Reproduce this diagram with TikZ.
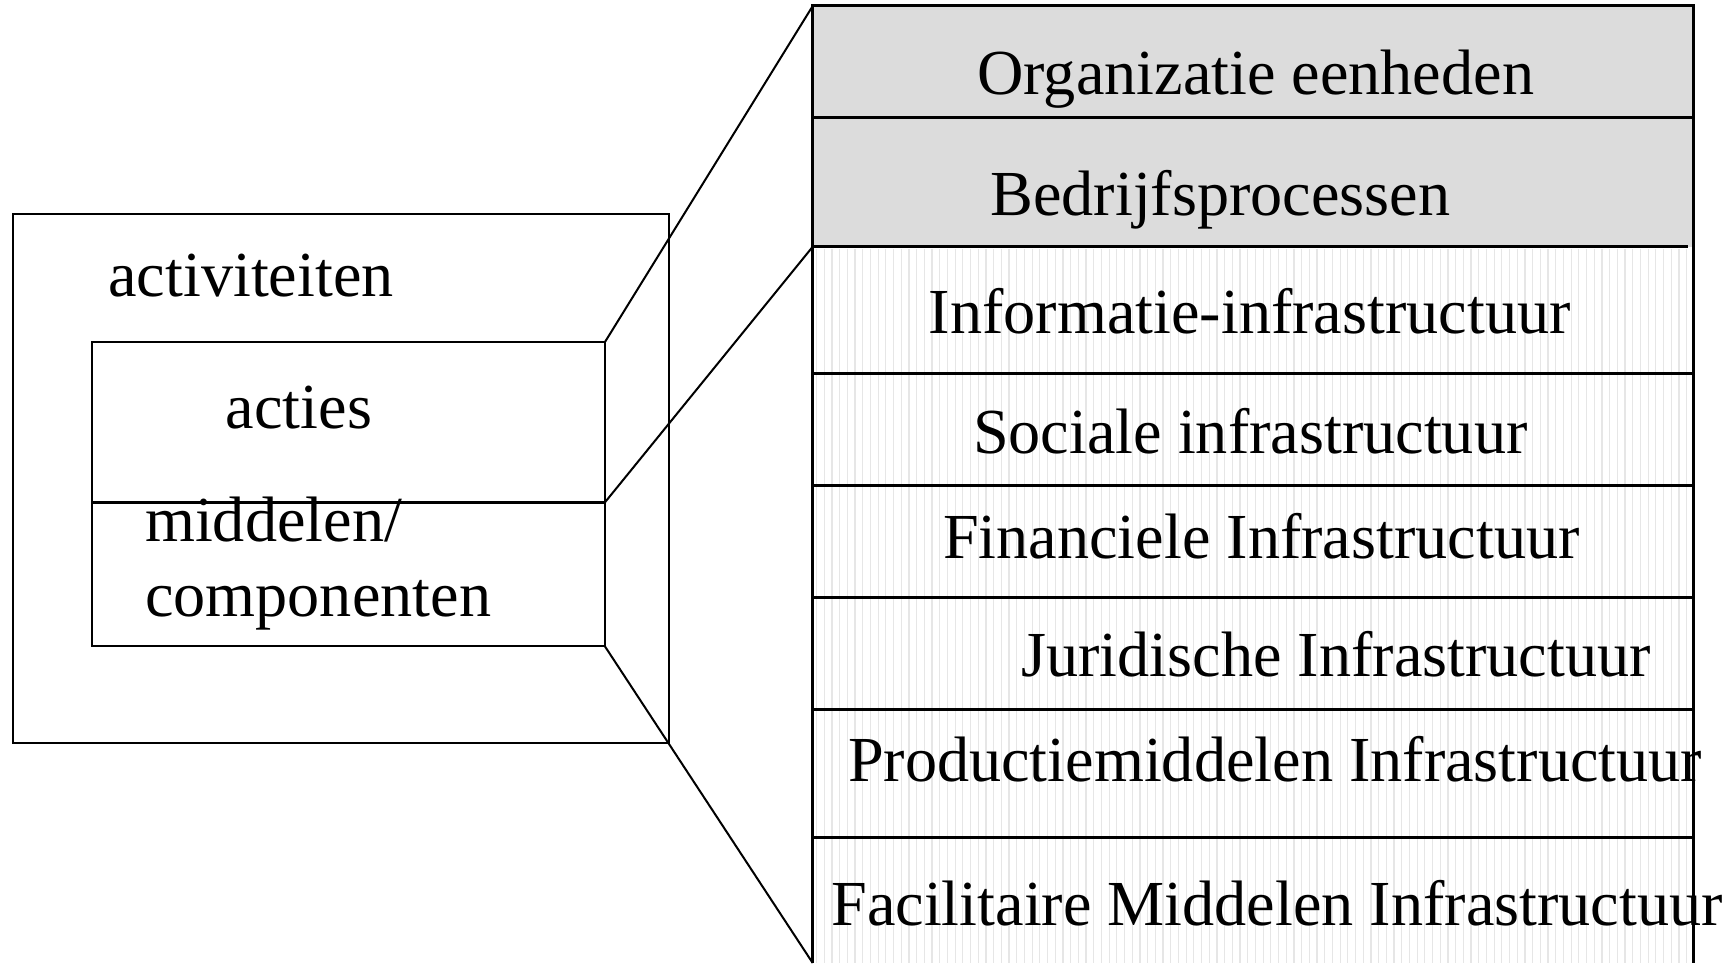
\documentclass[tikz,border=0pt]{standalone}
\usepackage{fontspec}
\setmainfont{Liberation Serif}
\definecolor{bandgray}{RGB}{220,220,220}
\definecolor{stripegray}{RGB}{230,230,230}
\begin{document}
\begin{tikzpicture}[x=0.5pt,y=-0.5pt,
  lbl/.style={anchor=base west, inner sep=0pt, font=\fontsize{32.1}{38}\selectfont},
  boxline/.style={line width=1pt, black},
  stackline/.style={line width=1.5pt, black},
  linkline/.style={line width=1pt, black},
  stripe/.style={line width=0.6pt, stripegray}]
\useasboundingbox (0,0) rectangle (1733,963);
% corners
\coordinate (oTL) at (12.5,214.3);
\coordinate (oBR) at (668.7,742.7);
\coordinate (iTL) at (92.4,342.1);
\coordinate (iTR) at (604.9,342.1);
\coordinate (iML) at (92.4,502.4);
\coordinate (iMR) at (604.9,502.4);
\coordinate (iBL) at (92.4,646.3);
\coordinate (iBR) at (604.9,646.3);
\coordinate (sTL) at (812.7,6);
\coordinate (sTR) at (1693,6);
\coordinate (sB2L) at (812.7,246.7);
\coordinate (sB2R) at (1693,246.7);
\coordinate (sBL) at (812.7,963);
\coordinate (sBR) at (1693,963);
% stack backgrounds
\fill[bandgray] (sTL) rectangle (sB2R);
\foreach \x in {816.5,824.2,...,1690} \draw[stripe] (\x,248.5) -- (\x,963);
% left boxes
\draw[boxline] (oTL) rectangle (oBR);
\draw[boxline] (iTL) rectangle (iBR);
\draw[stackline] (iML) -- (iMR);
% texts
\node[lbl] (act) at (108,296) {activiteiten};
\node[lbl] (acties) at (225.5,428.8) {acties};
\node[lbl] (mid) at (144.8,541.5) {middelen/};
\node[lbl] (comp) at (144.8,616.7) {componenten};
\node[lbl] (r1) at (977,95) {Organizatie eenheden};
\node[lbl] (r2) at (990,215.5) {Bedrijfsprocessen};
\node[lbl] (r3) at (928.4,333.8) {Informatie-infrastructuur};
\node[lbl] (r4) at (972.6,453) {Sociale infrastructuur};
\node[lbl] (r5) at (942.7,558) {Financiele Infrastructuur};
\node[lbl] (r6) at (1021,676) {Juridische Infrastructuur};
\node[lbl] (r7) at (847.7,781) {Productiemiddelen Infrastructuur};
\node[lbl] (r8) at (831,925) {Facilitaire Middelen Infrastructuur};
% stack lines
\draw[stackline] (sBL) -- (sTL) -- (sTR) -- (sBR);
\draw[stackline] (812.7,118) -- (1693,118);
\draw[stackline] (sB2L) -- (1688,246.7);
\foreach \y in {373.6,485.2,597.9,709.5,837.7} \draw[stackline] (812.7,\y) -- (1693,\y);
% connectors
\draw[linkline] (iTR) -- (sTL);
\draw[linkline] (iMR) -- (sB2L);
\draw[linkline] (iBR) -- (sBL);
\end{tikzpicture}
\end{document}
